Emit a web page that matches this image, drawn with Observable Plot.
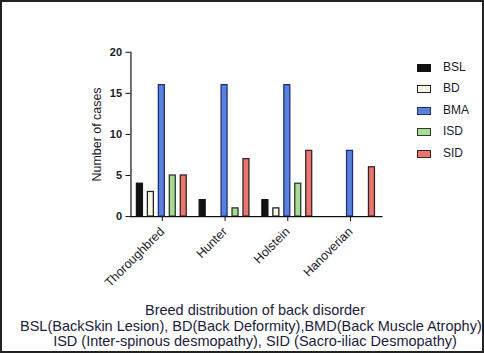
<!DOCTYPE html>
<html><head><meta charset="utf-8">
<script src="https://cdn.jsdelivr.net/npm/d3@7"></script>
<script src="https://cdn.jsdelivr.net/npm/@observablehq/plot@0.6"></script>
<style>
body{margin:0;background:#fff;}
#wrap{position:relative;width:484px;height:353px;box-sizing:border-box;border:2px solid #222;overflow:hidden;font-family:"Liberation Sans",Arial,sans-serif;}
#chart{position:absolute;left:-2px;top:-2px;}
#legend{position:absolute;left:415px;top:59px;}
.li{position:absolute;left:0;height:12px;font-size:12px;color:#1a1a2a;white-space:nowrap;}
.sw{position:absolute;left:0;top:3px;width:12px;height:6px;border:1px solid #111;}
.lt{position:absolute;left:26px;top:-1px;}
#cap{position:absolute;left:-2px;top:301px;width:484px;font-size:14.5px;line-height:15.5px;color:#1c1c3c;white-space:nowrap;}
</style></head>
<body>
<div id="wrap"><div id="chart"></div><div id="legend"></div>
<div id="cap"><div style="text-align:center;padding-left:26px">Breed distribution of back disorder</div><div style="padding-left:20px">BSL(BackSkin Lesion), BD(Back Deformity),BMD(Back Muscle Atrophy)</div><div style="text-align:center;padding-left:26px">ISD (Inter-spinous desmopathy), SID (Sacro-iliac Desmopathy)</div></div>
</div>
<script>
const breeds = ["Thoroughbred", "Hunter", "Holstein", "Hanoverian"];
const disorders = ["BSL", "BD", "BMA", "ISD", "SID"];
const BSL = [4, 2, 2, 0];
const BD  = [3, 0, 1, 0];
const BMA = [16, 16, 16, 8];
const ISD = [5, 1, 4, 0];
const SID = [5, 7, 8, 6];
const yTicks = [0, 5, 10, 15, 20];
const colors = ["#111111", "#fbf8e6", "#5a82d8", "#a6db94", "#e8786e"];
const strokes = ["#111111", "#222222", "#1c2f8a", "#2c3a2a", "#3a2222"];

const series = {BSL, BD, BMA, ISD, SID};
const data = [];
breeds.forEach((b, i) => disorders.forEach(d => {
  const v = series[d][i];
  if (v > 0) data.push({breed: b, disorder: d, value: v});
}));

const plot = Plot.plot({
  width: 484, height: 295,
  marginLeft: 130, marginRight: 101, marginTop: 52, marginBottom: 78,
  style: {fontFamily: "Liberation Sans, Arial, sans-serif", fontSize: "11px", color: "#1a1a2a", background: "transparent"},
  fx: {domain: breeds, padding: 0, label: null},
  x: {domain: disorders, paddingInner: 0.45, paddingOuter: 0.525, axis: null},
  y: {domain: [0, 20]},
  color: {domain: disorders, range: colors},
  marks: [
    Plot.axisFx({anchor: "bottom", tickRotate: -45, tickSize: 5, label: null, fontSize: 12.5, tickPadding: 8, stroke: "#111", strokeWidth: 1}),
    Plot.axisY({anchor: "left", ticks: yTicks, tickSize: 5, label: null, fontSize: 11, fontWeight: "bold", stroke: "#111"}),
    Plot.axisY({anchor: "left", ticks: [], tickSize: 0, label: "Number of cases", labelAnchor: "center", labelArrow: "none", labelOffset: 39, fontSize: 12.5}),
    Plot.barY(data, {fx: "breed", x: "disorder", y: "value", fill: "disorder",
      stroke: d => strokes[disorders.indexOf(d.disorder)], strokeWidth: 1.3}),
    Plot.frame({anchor: "left", facet: "super", stroke: "#111", strokeWidth: 1.2}),
    Plot.frame({anchor: "bottom", facet: "super", stroke: "#111", strokeWidth: 1.2})
  ]
});
document.getElementById("chart").appendChild(plot);

const lg = document.getElementById("legend");
const rowsY = [0, 21, 43, 64, 86];
disorders.forEach((d, i) => {
  const row = document.createElement("div");
  row.className = "li";
  row.style.top = rowsY[i] + "px";
  row.innerHTML = `<div class="sw" style="background:${colors[i]};border-color:${strokes[i]}"></div><div class="lt">${d}</div>`;
  lg.appendChild(row);
});
</script>
</body></html>
